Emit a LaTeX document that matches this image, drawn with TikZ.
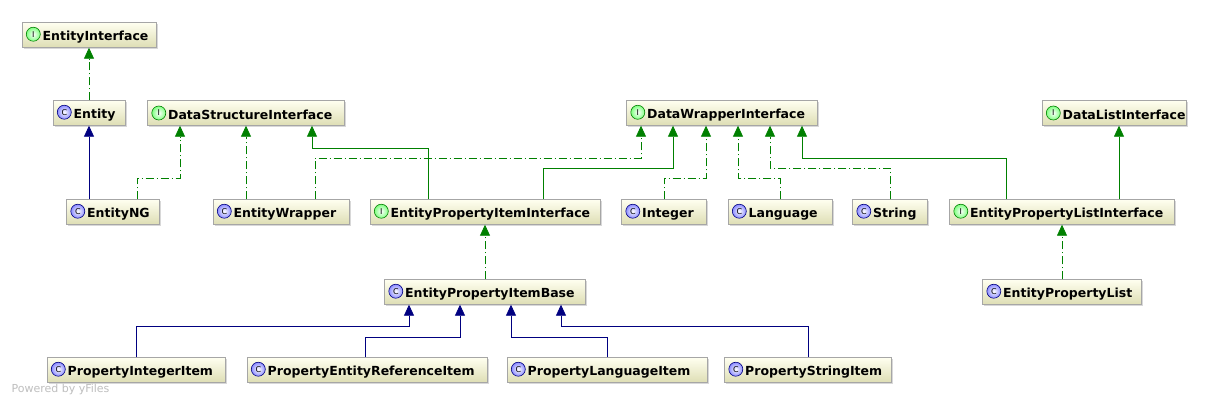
\documentclass[tikz,border=0pt]{standalone}
\usepackage{fontspec}
\setmainfont{DejaVu Sans}
\usetikzlibrary{arrows.meta,shadows}
\definecolor{gr}{RGB}{0,128,0}
\definecolor{nv}{RGB}{0,0,128}
\tikzset{icn/.style={circle,inner sep=0pt,minimum size=14pt,line width=0.6pt,font=\fontsize{8}{8}\selectfont\mdseries}}
\newcommand{\iI}{\tikz[baseline=-0.9ex]\node[icn,draw=green!50!black,inner color=white,outer color=green!50]{I};\,}
\newcommand{\iC}{\tikz[baseline=-0.9ex]\node[icn,draw=blue!50!black,inner color=white,outer color=blue!45]{C};\,}
\begin{document}
\begin{tikzpicture}[x=1pt,y=-1pt,
 box/.style={draw=gray!70,top color=yellow!6!white,bottom color=olive!18!white!90!gray,
   minimum height=25pt,inner xsep=4pt,align=left,font=\fontsize{12.5}{15}\selectfont\bfseries,
   drop shadow={shadow xshift=1.5pt,shadow yshift=-1.5pt,fill=gray!60}},
 impl/.style={gr,thick,dash pattern=on 8pt off 3pt on 1pt off 3pt,-{Triangle[width=10pt,length=11pt]}},
 ext/.style={gr,thick,-{Triangle[width=10pt,length=11pt]}},
 inh/.style={nv,thick,-{Triangle[width=10pt,length=11pt]}}]
\useasboundingbox[fill=white] (0,0) rectangle (1219,405);
\newcommand{\bx}[5]{\node[box,text width=#3-8pt] (#1) at (#2) {#4#5};}
\bx{ei}{89,35}{134}{\iI}{EntityInterface}
\bx{en}{89,113}{72}{\iC}{Entity}
\bx{dsi}{246,113}{197}{\iI}{DataStructureInterface}
\bx{dwi}{722,113}{191}{\iI}{DataWrapperInterface}
\bx{dli}{1114,113}{144}{\iI}{DataListInterface}
\bx{ng}{113,212}{93}{\iC}{EntityNG}
\bx{ew}{281,212}{136}{\iC}{EntityWrapper}
\bx{epii}{485,212}{230}{\iI}{EntityPropertyItemInterface}
\bx{int}{664,212}{85}{\iC}{Integer}
\bx{lang}{780,212}{104}{\iC}{Language}
\bx{str}{890,212}{75}{\iC}{String}
\bx{epli}{1062,212}{225}{\iI}{EntityPropertyListInterface}
\bx{epib}{485,292}{201}{\iC}{EntityPropertyItemBase}
\bx{epl}{1062,292}{159}{\iC}{EntityPropertyList}
\bx{pii}{136,370}{178}{\iC}{PropertyIntegerItem}
\bx{peri}{367,370}{240}{\iC}{PropertyEntityReferenceItem}
\bx{pli}{607,370}{200}{\iC}{PropertyLanguageItem}
\bx{psi}{808,370}{167}{\iC}{PropertyStringItem}
\draw[impl] (en) -- (ei);
\draw[inh] (ng.north -| en) -- (en);
\draw[impl] (137,0 |- ng.north) |- (180,178) -- (180,0 |- dsi.south);
\draw[impl] (246,0 |- ew.north) -- (dsi);
\draw[impl] (315,0 |- ew.north) |- (641,158) -- (641,0 |- dwi.south);
\draw[ext] (428,0 |- epii.north) |- (312,148) -- (312,0 |- dsi.south);
\draw[ext] (543,0 |- epii.north) |- (673,168) -- (673,0 |- dwi.south);
\draw[impl] (664,0 |- int.north) |- (706,178) -- (706,0 |- dwi.south);
\draw[impl] (780,0 |- lang.north) |- (738,178) -- (738,0 |- dwi.south);
\draw[impl] (890,0 |- str.north) |- (770,168) -- (770,0 |- dwi.south);
\draw[ext] (1006,0 |- epli.north) |- (802,158) -- (802,0 |- dwi.south);
\draw[ext] (1119,0 |- epli.north) -- (1119,0 |- dli.south);
\draw[impl] (epib) -- (epii);
\draw[impl] (epl) -- (epli);
\draw[inh] (136,0 |- pii.north) |- (409,326) -- (409,0 |- epib.south);
\draw[inh] (365,0 |- peri.north) |- (460,337) -- (460,0 |- epib.south);
\draw[inh] (607,0 |- pli.north) |- (511,337) -- (511,0 |- epib.south);
\draw[inh] (808,0 |- psi.north) |- (561,326) -- (561,0 |- epib.south);
\node[anchor=west,text=gray!50,font=\fontsize{11}{12}\selectfont] (pw) at (8,389) {Powered by yFiles};
\end{tikzpicture}
\end{document}
